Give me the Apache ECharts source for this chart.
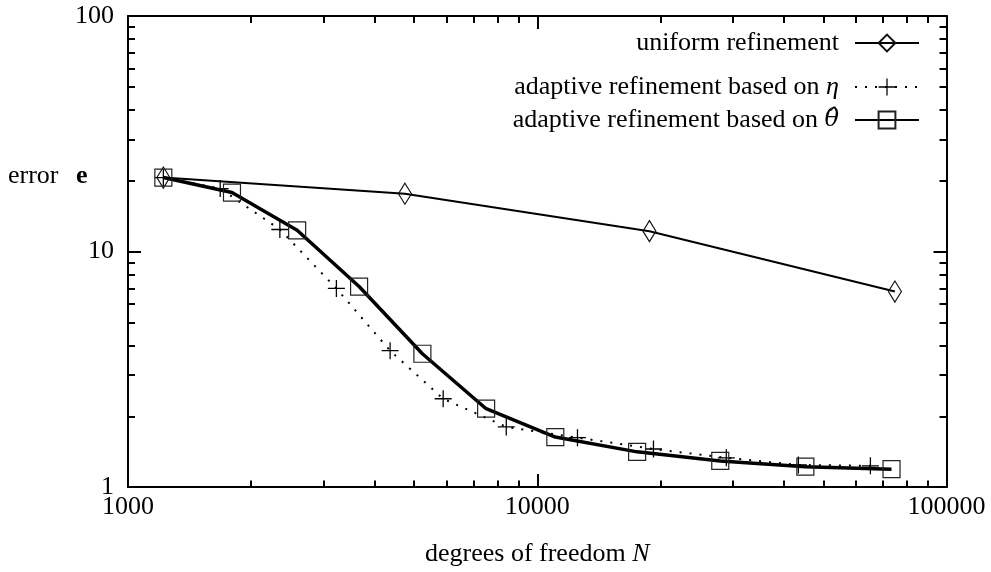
<!DOCTYPE html>
<html>
<head>
<meta charset="utf-8">
<script src="https://cdn.jsdelivr.net/npm/echarts@6/dist/echarts.min.js"></script>
<style>html,body{margin:0;padding:0;background:#fff}#c{width:991px;height:572px}</style>
</head>
<body>
<div id="c"></div>
<script>
const xMajorTicks = [1000, 10000, 100000];
const yMajorTicks = [1, 10, 100];
const xMinorTicks = [2000, 3000, 4000, 5000, 6000, 7000, 8000, 9000, 20000, 30000, 40000, 50000, 60000, 70000, 80000, 90000];
const yMinorTicks = [2, 3, 4, 5, 6, 7, 8, 9, 20, 30, 40, 50, 60, 70, 80, 90];

const seriesNames = ['uniform refinement', 'adaptive refinement based on η', 'adaptive refinement based on θ̂'];
const N_uniform = [1220, 4750, 18800, 74800];
const E_uniform = [20.6, 17.6, 12.2, 6.76];
const N_eta = [1220, 1680, 2350, 3230, 4370, 5890, 8400, 12540, 19230, 28970, 43460, 65170];
const E_eta = [20.6, 18.5, 12.4, 6.97, 3.79, 2.37, 1.80, 1.62, 1.45, 1.33, 1.24, 1.23];
const N_theta = [1220, 1795, 2590, 3670, 5240, 7500, 11070, 17540, 28000, 45200, 73400];
const E_theta = [20.6, 17.8, 12.3, 7.10, 3.68, 2.15, 1.63, 1.41, 1.29, 1.22, 1.19];

const pairs = (xs, ys) => xs.map((x, i) => [x, ys[i]]);
const FONT = '"Liberation Serif", "DejaVu Serif", serif';
const FS = 26;
const gridPos = { left: 128, right: 44.5, top: 16, bottom: 84.5, containLabel: false };

function majorX(pos, labels) {
  return {
    type: 'log', logBase: 10, min: 1000, max: 100000, gridIndex: 0, position: pos,
    axisLine: { show: true, onZero: false, lineStyle: { color: '#000', width: 2 } },
    axisTick: { show: true, inside: true, length: 13, lineStyle: { color: '#000', width: 2 }, customValues: xMajorTicks },
    axisLabel: { show: labels, margin: 7, color: '#000', fontFamily: FONT, fontSize: FS, customValues: xMajorTicks,
      formatter: v => String(Math.round(v)) },
    splitLine: { show: false }, minorTick: { show: false },
    name: labels ? 'degrees of freedom {i|N}' : '', nameLocation: 'middle', nameGap: 54,
    nameTextStyle: { color: '#000', fontFamily: FONT, fontSize: FS,
      rich: { i: { fontStyle: 'italic', fontFamily: FONT, fontSize: FS, color: '#000' } } }
  };
}
function minorX(pos) {
  return {
    type: 'log', logBase: 10, min: 1000, max: 100000, gridIndex: 1, position: pos,
    axisLine: { show: false, onZero: false },
    axisTick: { show: true, inside: true, length: 7, lineStyle: { color: '#000', width: 2 }, customValues: xMinorTicks },
    axisLabel: { show: false }, splitLine: { show: false }
  };
}
function majorY(pos, labels) {
  return {
    type: 'log', logBase: 10, min: 1, max: 100, gridIndex: 0, position: pos,
    axisLine: { show: true, onZero: false, lineStyle: { color: '#000', width: 2 } },
    axisTick: { show: true, inside: true, length: 13, lineStyle: { color: '#000', width: 2 }, customValues: yMajorTicks },
    axisLabel: { show: labels, margin: 14, color: '#000', fontFamily: FONT, fontSize: FS, customValues: yMajorTicks,
      formatter: v => String(Math.round(v)) },
    splitLine: { show: false }
  };
}
function minorY(pos) {
  return {
    type: 'log', logBase: 10, min: 1, max: 100, gridIndex: 1, position: pos,
    axisLine: { show: false, onZero: false },
    axisTick: { show: true, inside: true, length: 7, lineStyle: { color: '#000', width: 2 }, customValues: yMinorTicks },
    axisLabel: { show: false }, splitLine: { show: false }
  };
}

const plusPath = 'path://M7.4,0h1.2v16h-1.2z M0,7.4h16v1.2h-16z';
const richGreek = {
  i: { fontStyle: 'italic', fontFamily: FONT, fontSize: FS, color: '#000' },
  t: { fontStyle: 'italic', fontFamily: '"DejaVu Serif", serif', fontSize: 24, color: '#000' }
};
function legendRow(name, top) {
  return {
    data: [name], right: 71, top: top, padding: 0, orient: 'vertical', align: 'right',
    itemWidth: 64, itemHeight: 21, selectedMode: false,
    textStyle: { color: '#000', fontFamily: FONT, fontSize: FS, padding: [0, 11, 0, 0], rich: richGreek },
    formatter: n => n === seriesNames[1] ? 'adaptive refinement based on {i|η}'
                 : n === seriesNames[2] ? 'adaptive refinement based on {t|θ̂}' : n
  };
}

const chart = echarts.init(document.getElementById('c'), null, { renderer: 'canvas' });
chart.setOption({
  animation: false,
  backgroundColor: '#fff',
  title: {
    text: 'error {b|e}', left: 8, top: 163, padding: 0,
    textStyle: { color: '#000', fontFamily: FONT, fontSize: FS, fontWeight: 'normal',
      rich: { b: { fontWeight: 'bold', fontFamily: FONT, fontSize: FS, color: '#000', padding: [0, 0, 0, 11] } } }
  },
  legend: [legendRow(seriesNames[0], 30), legendRow(seriesNames[1], 74), legendRow(seriesNames[2], 107)],
  grid: [Object.assign({}, gridPos), Object.assign({}, gridPos)],
  xAxis: [majorX('bottom', true), majorX('top', false), minorX('bottom'), minorX('top')],
  yAxis: [majorY('left', true), majorY('right', false), minorY('left'), minorY('right')],
  series: [
    {
      name: seriesNames[0], type: 'line', xAxisIndex: 0, yAxisIndex: 0,
      data: pairs(N_uniform, E_uniform), color: '#000',
      lineStyle: { color: '#000', width: 2 },
      symbol: 'diamond', symbolSize: [13, 21],
      itemStyle: { color: 'none', borderColor: '#111', borderWidth: 1.2 }
    },
    {
      name: seriesNames[1], type: 'line', xAxisIndex: 0, yAxisIndex: 0,
      data: pairs(N_eta, E_eta), color: '#000',
      lineStyle: { color: '#000', width: 2, type: [2, 8] },
      symbol: plusPath, symbolSize: 17,
      itemStyle: { color: '#000' }
    },
    {
      name: seriesNames[2], type: 'line', xAxisIndex: 0, yAxisIndex: 0,
      data: pairs(N_theta, E_theta), color: '#000',
      lineStyle: { color: '#000', width: 3.5 },
      symbol: 'rect', symbolSize: 17,
      itemStyle: { color: 'none', borderColor: '#222', borderWidth: 1.2 }
    }
  ]
});
</script>
</body>
</html>
